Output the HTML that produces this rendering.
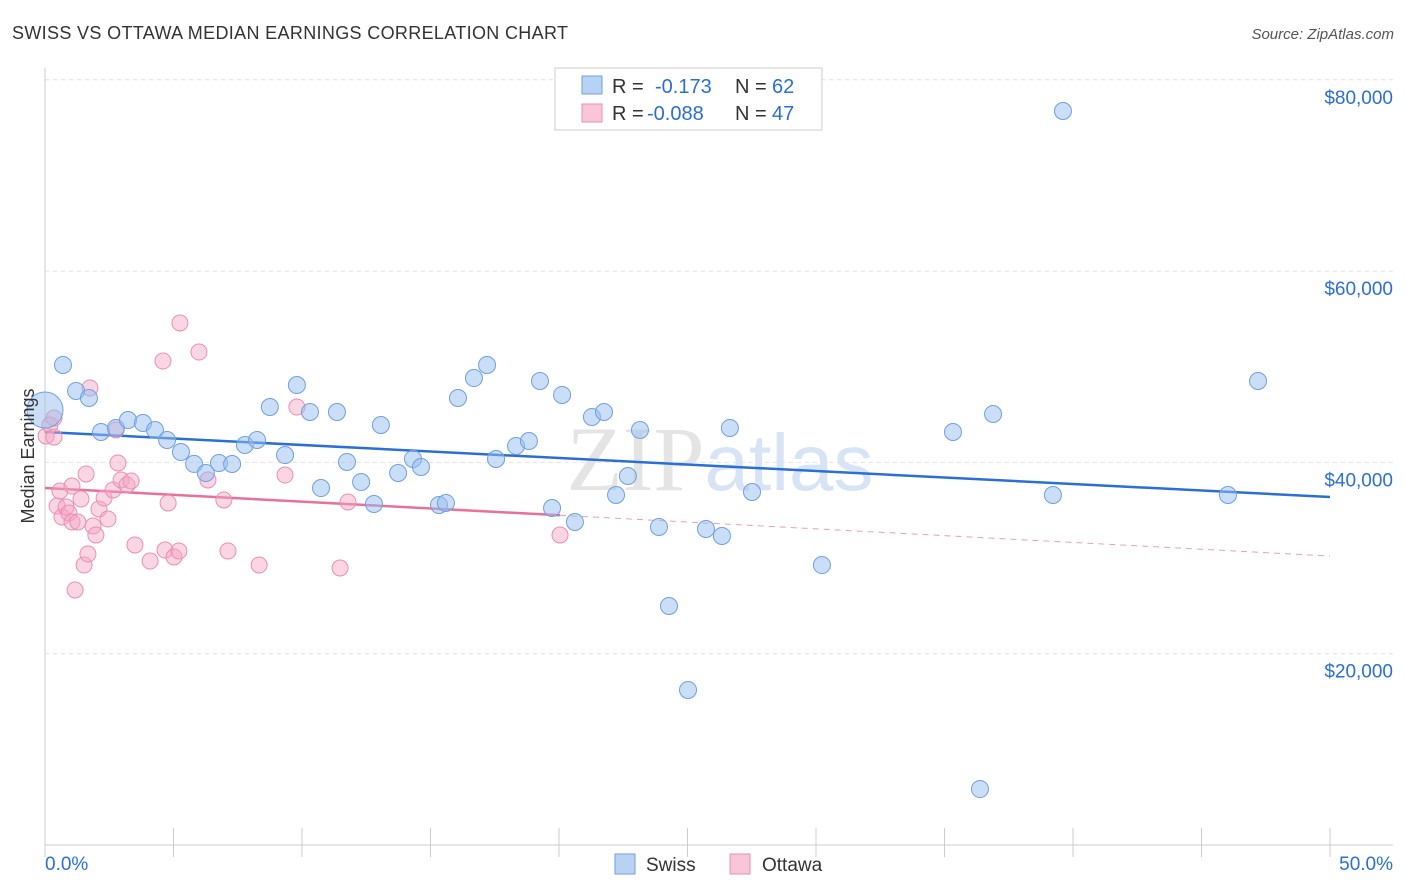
<!DOCTYPE html>
<html><head><meta charset="utf-8"><style>
body{margin:0;background:#fff;font-family:"Liberation Sans",sans-serif;}
svg{display:block}
</style></head><body>
<svg id="chart" width="1406" height="892">
<text x="12" y="39" font-size="18" fill="#333" textLength="556">SWISS VS OTTAWA MEDIAN EARNINGS CORRELATION CHART</text>
<text x="1394" y="39" font-size="15" fill="#555" font-style="italic" text-anchor="end">Source: ZipAtlas.com</text>
<text x="720" y="490" font-size="92" fill="#e4e4e4" text-anchor="middle" font-family="Liberation Serif">ZIP<tspan fill="#d6e4f5" font-family="Liberation Sans" font-size="80">atlas</tspan></text>
<g id="grid"></g><g id="axes"></g><g id="lines"></g><g id="pts"></g>
<text x="34" y="456" font-size="18" fill="#333" text-anchor="middle" transform="rotate(-90 34 456)">Median Earnings</text>
<g>
<rect x="555" y="68" width="267" height="62" fill="#fff" stroke="#ccc"/>
<rect x="582" y="76" width="20" height="18" fill="#b8d2f4" stroke="#6fa0e0"/>
<text x="612" y="93" font-size="20" fill="#333">R =</text>
<text x="655" y="93" font-size="20" fill="#2a6fd6">-0.173</text>
<text x="735" y="93" font-size="20" fill="#333">N =</text>
<text x="772" y="93" font-size="20" fill="#2a6fd6">62</text>
<rect x="582" y="104" width="20" height="18" fill="#f8c6d8" stroke="#eb8fb0"/>
<text x="612" y="120" font-size="20" fill="#333">R =</text>
<text x="647" y="120" font-size="20" fill="#2a6fd6">-0.088</text>
<text x="735" y="120" font-size="20" fill="#333">N =</text>
<text x="772" y="120" font-size="20" fill="#2a6fd6">47</text>
</g>
<g>
<rect x="615" y="854" width="20" height="20" fill="#b8d2f4" stroke="#6fa0e0"/>
<text x="646" y="871" font-size="19" fill="#333">Swiss</text>
<rect x="730" y="854" width="20" height="20" fill="#f8c6d8" stroke="#eb8fb0"/>
<text x="762" y="871" font-size="19" fill="#333">Ottawa</text>
</g>
</svg>
<script>
const yTicks=[20000,40000,60000,80000];
const yTickLabels=["$20,000","$40,000","$60,000","$80,000"];
const xTicks=[0,5,10,15,20,25,30,35,40,45,50];
const xEndLabels=["0.0%","50.0%"];
const swissX=[0.0,0.70,1.21,1.71,2.18,2.76,3.23,3.81,4.28,4.75,5.29,5.80,6.26,6.77,7.28,7.78,8.25,8.75,9.34,9.80,10.31,10.74,11.36,11.75,12.30,12.80,13.07,13.74,14.32,14.63,15.33,15.60,16.07,16.69,17.20,17.55,18.33,18.83,19.26,19.73,20.12,20.62,21.28,21.75,22.22,22.68,23.15,23.89,24.28,25.02,25.72,26.34,26.65,27.51,30.23,35.33,36.38,36.89,39.22,39.61,46.03,47.20];
const swissY=[45480,50180,47470,46730,43180,43600,44430,44120,43390,42340,41090,39840,38890,39940,39830,41820,42340,45790,40770,48090,45270,37320,45270,40040,37950,35650,43910,38890,40360,39520,35550,35760,46730,48820,50180,40360,41720,42240,48510,35230,47050,33770,44750,45270,36590,38580,43390,33250,24990,16210,33040,32310,43600,36910,29270,43180,5850,45060,36590,76740,36590,48510];
const ottX=[0.04,0.19,0.35,0.47,0.58,0.66,0.82,0.93,1.05,1.17,1.28,1.40,1.52,1.60,1.67,1.75,1.87,1.98,2.10,2.30,2.45,2.65,2.76,2.84,2.96,3.19,3.35,3.50,4.09,4.59,4.67,4.79,5.02,5.21,5.25,5.99,6.34,6.96,7.12,8.33,9.34,9.80,11.48,11.79,20.04,1.05,0.35];
const ottY=[42760,43910,44640,35440,37010,34290,35340,34710,33770,26660,33770,36170,29270,38790,30420,47780,33350,32410,35130,36280,34080,37120,43390,39940,38160,37640,38060,31370,29690,50600,30840,35760,30110,30740,54580,51540,38160,36070,30740,29270,38680,45790,28960,35860,32410,37530,42650];
const swissFit=[43180,36380];
const ottFit=[37320,30210];
const ottSolidEnd=20.04;
const X=v=>45+v/50*1285, Y=v=>845-v/20000*191.3;
const NS="http://www.w3.org/2000/svg";
function mk(p,t,a){const e=document.createElementNS(NS,t);for(const k in a)e.setAttribute(k,a[k]);document.getElementById(p).appendChild(e);return e;}
yTicks.forEach((t,i)=>{
 const g=mk('grid','line',{x1:45,x2:1393,y1:Y(t),y2:Y(t),stroke:'#e2e2e2','stroke-dasharray':'4,4'});
 
 
 const l=mk('grid','text',{x:1393,y:Y(t)+24,'font-size':19,fill:'#2a6fd6','text-anchor':'end'});
 l.textContent=yTickLabels[i];
 
 
});
const ax=mk('axes','line',{x1:45,x2:45,y1:68,y2:845,stroke:'#ccc'});


const bx=mk('axes','line',{x1:45,x2:1393,y1:845,y2:845,stroke:'#ccc'});


xTicks.forEach(t=>{
 const k=mk('axes','line',{x1:X(t),x2:X(t),y1:828,y2:857,stroke:'#ccc'});
 
 
});
[[0,'start'],[50,'end']].forEach((d,i)=>{
 const l=mk('axes','text',{x:i?1393:45,y:870,'font-size':19,fill:'#2a6fd6','text-anchor':d[1]});
 l.textContent=xEndLabels[i];
 
 
});
ottX.forEach((x,i)=>{
 const c=mk('pts','circle',{cx:X(x),cy:Y(ottY[i]),r:8,fill:'rgba(245,165,195,0.45)',stroke:'#eb8fb0','stroke-width':1});
 
 
});
swissX.forEach((x,i)=>{
 const c=mk('pts','circle',{cx:X(x),cy:Y(swissY[i]),r:i===0?18:8.5,fill:'rgba(150,190,240,0.5)',stroke:'#6fa0e0','stroke-width':1});
 
 
});
const sl=mk('lines','line',{x1:X(0),y1:Y(swissFit[0]),x2:X(50),y2:Y(swissFit[1]),stroke:'#2a6fd6','stroke-width':2.5});


const ym=ottFit[0]+(ottFit[1]-ottFit[0])*ottSolidEnd/50;
const ol=mk('lines','line',{x1:X(0),y1:Y(ottFit[0]),x2:X(ottSolidEnd),y2:Y(ym),stroke:'#e8709a','stroke-width':2.5});


const od=mk('lines','line',{x1:X(ottSolidEnd),y1:Y(ym),x2:X(50),y2:Y(ottFit[1]),stroke:'#e8a0b8','stroke-width':1,'stroke-dasharray':'6,5'});


</script>
</body></html>
